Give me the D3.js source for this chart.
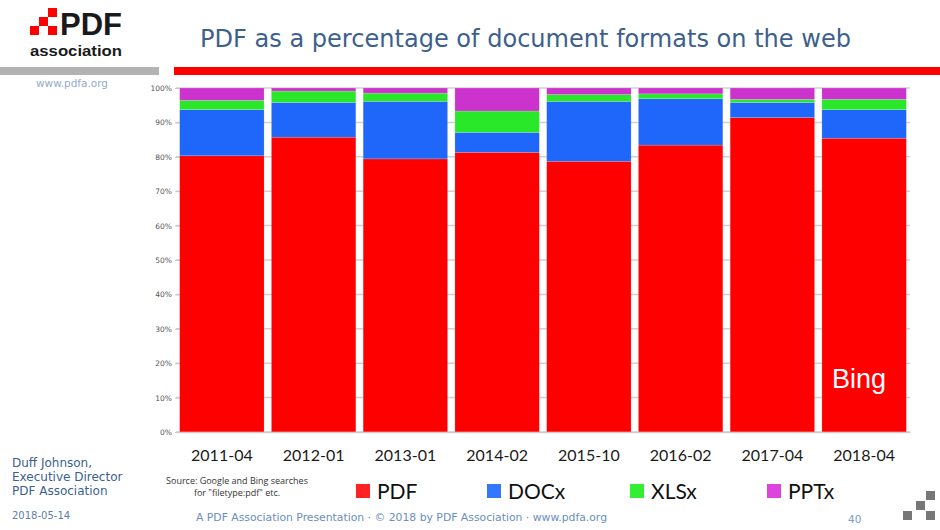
<!DOCTYPE html>
<html><head><meta charset="utf-8">
<script src="https://cdn.jsdelivr.net/npm/d3@7"></script>
<style>html,body{margin:0;padding:0;background:#fff;}svg{display:block;}</style>
</head><body>
<svg id="c" width="940" height="530"></svg>
<script>
const categories = ["2011-04","2012-01","2013-01","2014-02","2015-10","2016-02","2017-04","2018-04"];
const pdf  = [80.3, 85.7, 79.4, 81.3, 78.7, 83.4, 91.4, 85.4];
const docx = [13.4, 10.1, 16.7,  5.8, 17.4, 13.5,  4.4,  8.3];
const xlsx = [ 2.7,  3.3,  2.4,  6.2,  2.0,  1.4,  0.9,  3.0];
const pptx = [ 3.6,  0.9,  1.5,  6.7,  1.9,  1.7,  3.3,  3.3];
const seriesNames = ["PDF","DOCx","XLSx","PPTx"];
const yTicks = [0,10,20,30,40,50,60,70,80,90,100];

const barColors = ["#ff0000","#1f66fb","#29e82a","#cc33cc"];
const legendColors = ["#ff2222","#3377ff","#33ee33","#dd44dd"];

const svg = d3.select("#c");
const table = categories.map((c,i)=>({cat:c, PDF:pdf[i], DOCx:docx[i], XLSx:xlsx[i], PPTx:pptx[i]}));
const stacked = d3.stack().keys(seriesNames)(table);

const x = d3.scaleBand().domain(categories).range([176,910]).paddingInner(0.08).paddingOuter(0.04);
const y = d3.scaleLinear().domain([0,100]).range([432,88]);

// header logo
const logo = svg.append("g");
const sq = [[48,8],[39,17],[30,26],[48,26]];
logo.selectAll("rect").data(sq).enter().append("rect")
  .attr("x",d=>d[0]).attr("y",d=>d[1]).attr("width",9).attr("height",9).attr("fill","#ff0000");
logo.append("text").attr("x",60).attr("y",35)
  .attr("font-family","Liberation Sans, Arial, sans-serif")
  .attr("font-weight","bold").attr("font-size",31).attr("fill","#1a1a1a")
  .attr("textLength",62).attr("lengthAdjust","spacingAndGlyphs").text("PDF");
logo.append("text").attr("x",30).attr("y",55.5).attr("font-family","Liberation Sans, Arial, sans-serif")
  .attr("font-weight","bold").attr("font-size",15).attr("fill","#1a1a1a")
  .attr("textLength",92).attr("lengthAdjust","spacingAndGlyphs").text("association");

svg.append("text").attr("x",200).attr("y",47).attr("font-family","DejaVu Sans, Verdana, sans-serif")
  .attr("font-size",24).attr("fill","#3d5f8e").attr("textLength",651).attr("lengthAdjust","spacingAndGlyphs")
  .text("PDF as a percentage of document formats on the web");

svg.append("rect").attr("x",0).attr("y",67).attr("width",159).attr("height",8).attr("fill","#b3b3b3");
svg.append("rect").attr("x",174).attr("y",67).attr("width",766).attr("height",8).attr("fill","#ff0000");
svg.append("text").attr("x",36).attr("y",87).attr("font-family","DejaVu Sans, Verdana, sans-serif")
  .attr("font-size",10.5).attr("fill","#94abc9").attr("textLength",72).attr("lengthAdjust","spacingAndGlyphs").text("www.pdfa.org");

// gridlines
svg.append("g").selectAll("line").data(yTicks).enter().append("line")
  .attr("x1",176).attr("x2",910).attr("y1",d=>y(d)).attr("y2",d=>y(d))
  .attr("stroke","#d0d0d0").attr("stroke-width",1.5);

// y axis
const yAxis = d3.axisLeft(y).tickValues(yTicks).tickFormat(d=>d+"%").tickSize(5).tickPadding(3);
const ga = svg.append("g").attr("transform","translate(180,0)").call(yAxis);
ga.select(".domain").remove();
ga.selectAll(".tick line").attr("stroke","#c8c8c8");
ga.selectAll(".tick text").attr("font-family","DejaVu Sans, Verdana, sans-serif").attr("font-size",7.5).attr("fill","#555");

// bars
svg.append("g").selectAll("g").data(stacked).enter().append("g")
  .attr("fill",(d,i)=>barColors[i])
  .selectAll("rect").data(d=>d).enter().append("rect")
  .attr("x",d=>x(d.data.cat)).attr("width",x.bandwidth())
  .attr("y",d=>y(d[1])).attr("height",d=>y(d[0])-y(d[1]))
  .attr("stroke","rgba(255,255,255,0.25)").attr("stroke-width",0.6);

// x axis
const xAxis = d3.axisBottom(x).tickSize(0).tickPadding(18);
const gx = svg.append("g").attr("transform","translate(0,432)").call(xAxis);
gx.select(".domain").attr("stroke","#cccccc").attr("stroke-width",1.5);
gx.selectAll(".tick text").attr("font-family","Lato, Open Sans, sans-serif").attr("font-size",16).attr("fill","#1a1a1a");

// Bing label
svg.append("text").attr("x",832).attr("y",388).attr("font-family","Liberation Sans, Arial, sans-serif")
  .attr("font-size",27).attr("fill","#ffffff").text("Bing");

// source
const src = svg.append("g").attr("font-family","Open Sans, Lato, sans-serif").attr("font-size",9).attr("fill","#333").attr("text-anchor","middle");
src.append("text").attr("x",237).attr("y",484).text("Source: Google and Bing searches");
src.append("text").attr("x",237).attr("y",496).text("for \"filetype:pdf\" etc.");

// legend
const legX = [356,487,630,767];
const lg = svg.append("g").selectAll("g").data(seriesNames).enter().append("g")
  .attr("transform",(d,i)=>`translate(${legX[i]},0)`);
lg.append("rect").attr("x",0).attr("y",484).attr("width",14).attr("height",14).attr("fill",(d,i)=>legendColors[i]);
lg.append("text").attr("x",21).attr("y",499).attr("font-family","Lato, Open Sans, sans-serif").attr("font-size",21).attr("fill","#111").text(d=>d);

// footer left
const fl = svg.append("g").attr("font-family","DejaVu Sans, Verdana, sans-serif").attr("fill","#3b5f8f").attr("font-size",12);
fl.append("text").attr("x",12).attr("y",467).text("Duff Johnson,");
fl.append("text").attr("x",12).attr("y",481).text("Executive Director");
fl.append("text").attr("x",12).attr("y",495).text("PDF Association");
svg.append("text").attr("x",12).attr("y",519).attr("font-family","DejaVu Sans, Verdana, sans-serif")
  .attr("font-size",10).attr("fill","#5d7fa6").text("2018-05-14");
svg.append("text").attr("x",196).attr("y",521).attr("font-family","DejaVu Sans, Verdana, sans-serif")
  .attr("font-size",11).attr("fill","#6a8ebd").attr("textLength",411).attr("lengthAdjust","spacingAndGlyphs")
  .text("A PDF Association Presentation · © 2018 by PDF Association · www.pdfa.org");
svg.append("text").attr("x",848).attr("y",523).attr("font-family","DejaVu Sans, Verdana, sans-serif")
  .attr("font-size",10.5).attr("fill","#7a9cc5").text("40");

// corner icon
const ic = [[926,491],[916,501],[903,511],[926,511]];
svg.append("g").selectAll("rect").data(ic).enter().append("rect")
  .attr("x",d=>d[0]).attr("y",d=>d[1]).attr("width",9).attr("height",9).attr("fill","#777");
</script>
</body></html>
